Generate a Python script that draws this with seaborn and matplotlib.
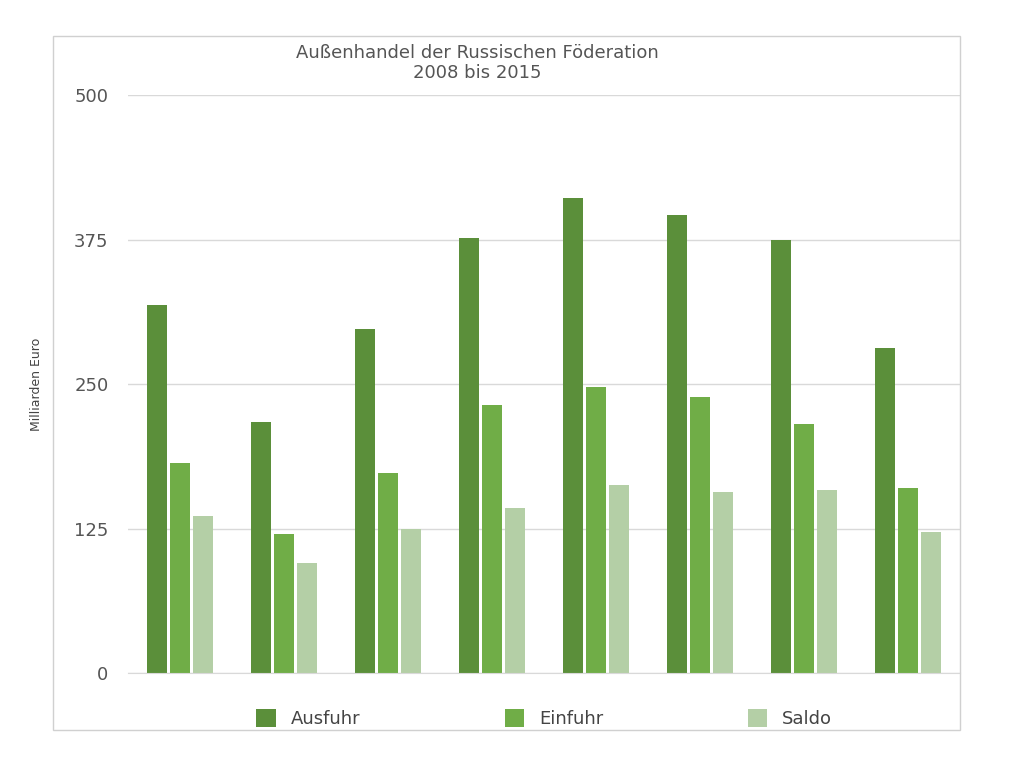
import matplotlib
matplotlib.use("Agg")
import matplotlib.pyplot as plt
import seaborn as sns
import pandas as pd

years = ["2008","2009","2010","2011","2012","2013","2014","2015"]
ausfuhr = [318, 217, 298, 376, 411, 396, 375, 281]
einfuhr = [182, 120, 173, 232, 247, 239, 215, 160]
saldo = [136, 95, 125, 143, 163, 157, 158, 122]
series = ["Ausfuhr", "Einfuhr", "Saldo"]
colors = ["#5b8f3a", "#70ad47", "#b4cfa6"]

df = pd.DataFrame({
    "Jahr": years * 3,
    "Wert": ausfuhr + einfuhr + saldo,
    "Serie": [s for s in series for _ in years],
})

plt.rcParams["font.family"] = "DejaVu Sans"
fig = plt.figure(figsize=(10.24, 7.68), dpi=100)
border = plt.Rectangle((53/1024, 1-730/768), 907/1024, 694/768, transform=fig.transFigure,
                       fill=False, edgecolor="#d0d0d0", linewidth=1)
fig.patches.append(border)
ax = fig.add_axes([128/1024, 1-673/768, 832/1024, 578/768])
sns.barplot(data=df, x="Jahr", y="Wert", hue="Serie", palette=colors, ax=ax,
            width=0.66, gap=0.15, errorbar=None, saturation=1)
ax.set_ylim(0, 500)
ax.set_yticks([0, 125, 250, 375, 500])
ax.grid(axis="y", color="#d9d9d9", linewidth=1)
ax.set_axisbelow(True)
for s in ax.spines.values():
    s.set_visible(False)
ax.spines["bottom"].set_visible(True)
ax.spines["bottom"].set_color("#d9d9d9")
ax.tick_params(axis="y", length=0, labelsize=13, colors="#555555", pad=14)
ax.tick_params(axis="x", length=0, labelbottom=False)
ax.set_xlabel("")
ax.set_ylabel("Milliarden Euro", fontsize=9, color="#444444", labelpad=22)
ax.set_title("Außenhandel der Russischen Föderation\n2008 bis 2015", fontsize=13,
             color="#555555", pad=12, y=1.0)
ax.title.set_position((0.42, 1.0))
ax.legend(loc="upper center", bbox_to_anchor=(0.5, -0.035), ncol=3, frameon=False,
          fontsize=13, handlelength=1.1, handleheight=1.1, columnspacing=8,
          labelcolor="#444444")
fig.savefig("out.png", dpi=100)
